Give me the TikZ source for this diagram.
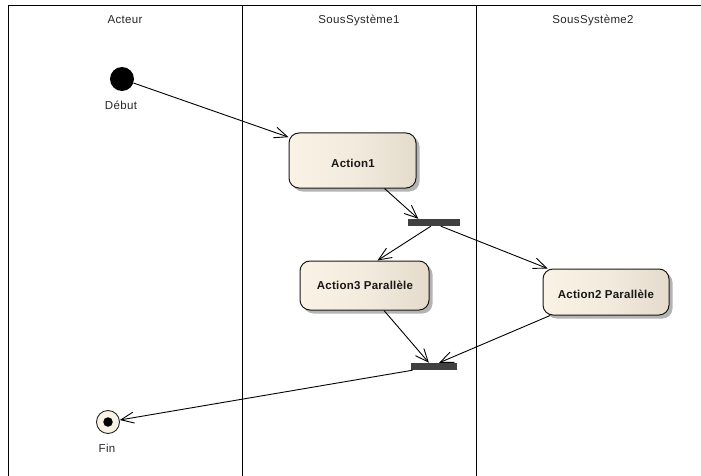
\documentclass[tikz,border=0pt]{standalone}
\usepackage{fontspec}
\setmainfont{Liberation Sans}
\newfontfamily\lanefont[LetterSpace=3]{Liberation Sans}
\newfontfamily\boxfont[LetterSpace=2,BoldFont={Liberation Sans Bold}]{Liberation Sans}
\usetikzlibrary{arrows.meta,calc,shadows}
\definecolor{shadowgray}{HTML}{B4B4B4}
\definecolor{barcol}{HTML}{404040}
\definecolor{creamL}{HTML}{F9F2E5}
\definecolor{creamR}{HTML}{E4DBCC}
\tikzset{
  x=1pt,y=-1pt,
  lane/.style={draw=black,line width=1pt},
  lanelabel/.style={font=\lanefont\fontsize{11.5}{13}\selectfont,text=black!85,inner sep=0pt},
  actionbox/.style={rectangle,rounded corners=10pt,draw=black!90,line width=1pt,
    left color=creamL,right color=creamR,middle color=creamL!70!creamR,inner sep=0pt,
    drop shadow={shadow xshift=3.5pt,shadow yshift=-3.5pt,fill=shadowgray,opacity=1}},
  boxlabel/.style={font=\boxfont\fontsize{11.5}{13}\selectfont\bfseries,text=black!90,inner sep=0pt},
  forkbar/.style={rectangle,fill=barcol,draw=none,inner sep=0pt},
  startnode/.style={circle,fill=black,inner sep=0pt,minimum size=24pt},
  endnode/.style={circle,draw=black!85,line width=0.9pt,fill=creamL,inner sep=0pt,minimum size=23pt},
  endcore/.style={circle,fill=black,inner sep=0pt,minimum size=9.5pt},
  flow/.style={draw=black,line width=0.9pt,-{Straight Barb[length=13pt,width=11pt,line width=0.9pt]}},
}
\begin{document}
\begin{tikzpicture}
\useasboundingbox (0,0) rectangle (701,476);
\coordinate (tl) at (8,6);
\coordinate (tr) at (701,6);
\coordinate (bl) at (8,476);
\coordinate (d1t) at (242,6);
\coordinate (d1b) at (242,476);
\coordinate (d2t) at (476,6);
\coordinate (d2b) at (476,476);
\draw[lane] (bl) -- (tl) -- (tr);
\draw[lane] (d1t) -- (d1b);
\draw[lane] (d2t) -- (d2b);
\node[lanelabel] (l1) at (125,20) {Acteur};
\node[lanelabel] (l2) at (359,20) {SousSystème1};
\node[lanelabel] (l3) at (593,20) {SousSystème2};
\node[startnode] (start) at (122,79) {};
\node[lanelabel] (startlbl) at (121,105) {Début};
\node[actionbox,minimum width=127pt,minimum height=55pt] (a1) at (352.5,160.5) {};
\node[boxlabel] (a1t) at (353,163) {Action1};
\node[actionbox,minimum width=129pt,minimum height=49pt] (a3) at (364.5,285.5) {};
\node[boxlabel] (a3t) at (365,285.5) {Action3 Parallèle};
\node[actionbox,minimum width=126pt,minimum height=46pt] (a2) at (606,292) {};
\node[boxlabel] (a2t) at (606,294) {Action2 Parallèle};
\node[forkbar,minimum width=52pt,minimum height=7pt] (f1) at (434,222.5) {};
\node[forkbar,minimum width=46pt,minimum height=7pt] (f2) at (434,366.5) {};
\node[endnode] (end) at (108,422) {};
\node[endcore] (endc) at (108,422) {};
\node[lanelabel] (endlbl) at (107,448) {Fin};
\draw[flow] (start) -- ($(a1.north west)!0.03!(a1.south west)+(0,3)$);
\draw[flow] ($(a1.south west)!0.75!(a1.south east)$) -- ($(f1.north west)!0.2!(f1.north east)$);
\draw[flow] ($(f1.south west)!0.44!(f1.south east)$) -- ($(a3.north west)!0.6!(a3.north east)$);
\draw[flow] ($(f1.south west)!0.63!(f1.south east)$) -- ($(a2.north west)!0.04!(a2.north east)$);
\draw[flow] ($(a3.south west)!0.65!(a3.south east)$) -- ($(f2.north west)!0.39!(f2.north east)$);
\draw[flow] ($(a2.south west)!0.06!(a2.south east)$) -- ($(f2.north west)!0.61!(f2.north east)$);
\draw[flow] ($(f2.south west)!0.04!(f2.south east)$) -- (end);
\end{tikzpicture}
\end{document}
